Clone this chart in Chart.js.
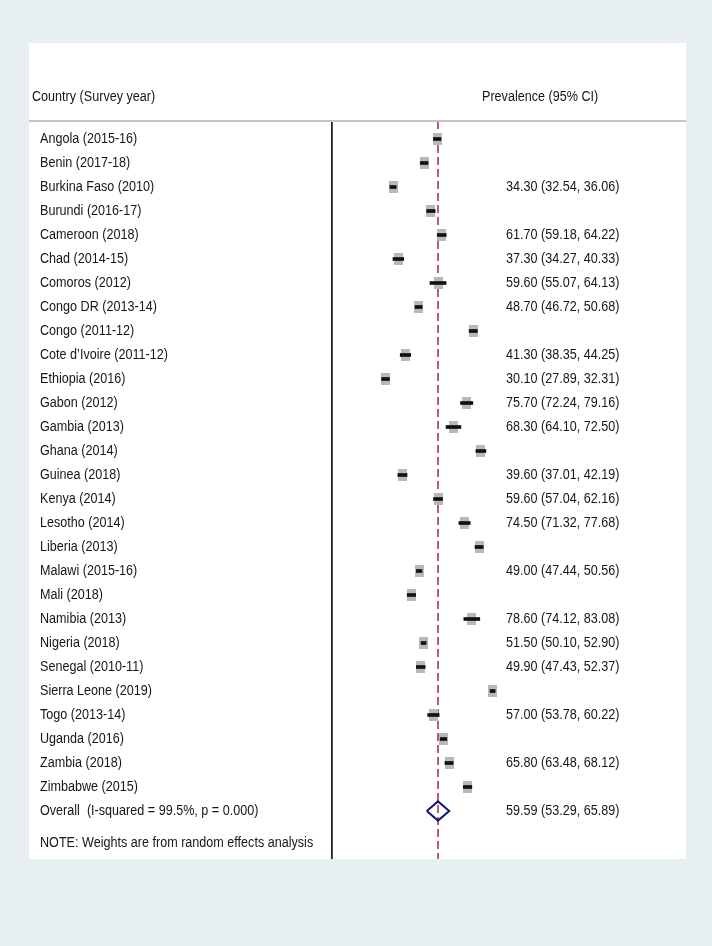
<!DOCTYPE html>
<html>
<head>
<meta charset="utf-8">
<script src="https://cdn.jsdelivr.net/npm/chart.js@4"></script>
<style>
  html, body { margin: 0; padding: 0; background: #e8eff1; }
  body { width: 712px; height: 946px; position: relative; overflow: hidden; }
  #forest { position: absolute; left: 29px; top: 43px; background: #ffffff; }
</style>
</head>
<body>
<canvas id="forest" width="657" height="816"></canvas>
<script>
// DATA
const countries = [
  'Angola (2015-16)', 'Benin (2017-18)', 'Burkina Faso (2010)', 'Burundi (2016-17)',
  'Cameroon (2018)', 'Chad (2014-15)', 'Comoros (2012)', 'Congo DR (2013-14)',
  'Congo (2011-12)', 'Cote d\u2019Ivoire (2011-12)', 'Ethiopia (2016)', 'Gabon (2012)',
  'Gambia (2013)', 'Ghana (2014)', 'Guinea (2018)', 'Kenya (2014)', 'Lesotho (2014)',
  'Liberia (2013)', 'Malawi (2015-16)', 'Mali (2018)', 'Namibia (2013)', 'Nigeria (2018)',
  'Senegal (2010-11)', 'Sierra Leone (2019)', 'Togo (2013-14)', 'Uganda (2016)',
  'Zambia (2018)', 'Zimbabwe (2015)'
];
const prevalence = [59.1, 51.8, 34.30, 55.6, 61.70, 37.30, 59.60, 48.70, 79.4, 41.30, 30.10, 75.70,
  68.30, 83.7, 39.60, 59.60, 74.50, 82.7, 49.00, 44.7, 78.60, 51.50, 49.90, 90.3, 57.00, 62.7, 65.80, 76.2];
const ciLow = [57.0, 49.6, 32.54, 53.2, 59.18, 34.27, 55.07, 46.72, 77.1, 38.35, 27.89, 72.24,
  64.10, 80.9, 37.01, 57.04, 71.32, 80.4, 47.44, 42.3, 74.12, 50.10, 47.43, 88.9, 53.78, 60.9, 63.48, 73.8];
const ciHigh = [61.2, 54.0, 36.06, 58.0, 64.22, 40.33, 64.13, 50.68, 81.7, 44.25, 32.31, 79.16,
  72.50, 86.5, 42.19, 62.16, 77.68, 85.0, 50.56, 47.0, 83.08, 52.90, 52.37, 91.7, 60.22, 64.5, 68.12, 78.6];
// rows whose estimate is printed in the right column
const printed = [0, 0, 1, 0, 1, 1, 1, 1, 0, 1, 1, 1, 1, 0, 1, 1, 1, 0, 1, 0, 1, 1, 1, 0, 1, 0, 1, 0];

const overallLabel = 'Overall  (I-squared = 99.5%, p = 0.000)';
const overall = { est: 59.59, lo: 53.29, hi: 65.89 };
const noteLabel = 'NOTE: Weights are from random effects analysis';

const FONT = '12.6px "Liberation Sans", Arial, Helvetica, sans-serif';
const TEXT = '#161616';
const STRETCH = 1.1; // the original export is a little taller than wide
const YMIN = -0.75, YMAX = 30.0;
const OVERALL_ROW = countries.length;
const NOTE_ROW = 29.33;

const fmt = (e, l, h) => `${e.toFixed(2)} (${l.toFixed(2)}, ${h.toFixed(2)})`;

const tickRows = countries.map((_, i) => i).concat([OVERALL_ROW, NOTE_ROW]);
const leftLabels = countries.concat([overallLabel, noteLabel]);
const rightLabels = countries.map((_, i) => printed[i] ? fmt(prevalence[i], ciLow[i], ciHigh[i]) : '')
  .concat([fmt(overall.est, overall.lo, overall.hi), '']);

// grey weight box
const box = document.createElement('canvas');
box.width = 9; box.height = 12;
const bctx = box.getContext('2d');
bctx.fillStyle = '#b8b8b8';
bctx.fillRect(0, 0, 9, 12);

const DIAMOND_H = 0.4;
const diamond = [
  { x: overall.lo, y: OVERALL_ROW },
  { x: overall.est, y: OVERALL_ROW - DIAMOND_H },
  { x: overall.hi, y: OVERALL_ROW },
  { x: overall.est, y: OVERALL_ROW + DIAMOND_H },
  { x: overall.lo, y: OVERALL_ROW }
];

function text(ctx, str, x, y) {
  ctx.save();
  ctx.translate(x, y);
  ctx.scale(1, STRETCH);
  ctx.fillText(str, 0, 0);
  ctx.restore();
}

// header, separator and the two text columns
const textPlugin = {
  id: 'textColumns',
  afterDraw(chart) {
    const ctx = chart.ctx, top = chart.chartArea.top, y = chart.scales.y;
    ctx.save();
    ctx.strokeStyle = '#c4c4c4';
    ctx.lineWidth = 2;
    ctx.beginPath();
    ctx.moveTo(0, top);
    ctx.lineTo(chart.width, top);
    ctx.stroke();
    ctx.font = FONT;
    ctx.fillStyle = TEXT;
    ctx.textBaseline = 'middle';
    ctx.textAlign = 'left';
    text(ctx, 'Country (Survey year)', 3, 54);
    text(ctx, 'Prevalence (95% CI)', 453, 54);
    tickRows.forEach((row, i) => {
      const py = y.getPixelForValue(row);
      text(ctx, leftLabels[i], 11, py);
      if (rightLabels[i]) text(ctx, rightLabels[i], chart.chartArea.right + 5, py);
    });
    ctx.restore();
  }
};

new Chart(document.getElementById('forest'), {
  type: 'scatter',
  data: {
    datasets: [
      {
        type: 'bar',
        indexAxis: 'y',
        data: ciLow.map((l, i) => ({ x: [l, ciHigh[i]], y: i })),
        backgroundColor: '#111111',
        borderWidth: 0,
        barThickness: 3,
        order: 0
      },
      {
        type: 'scatter',
        data: prevalence.map((v, i) => ({ x: v, y: i })),
        pointStyle: box,
        pointRadius: 5,
        clip: false,
        order: 1
      },
      {
        type: 'line',
        data: diamond,
        borderColor: '#13186e',
        borderWidth: 2,
        pointRadius: 0,
        fill: false,
        tension: 0,
        order: 2
      },
      {
        type: 'line',
        data: [{ x: overall.est, y: YMIN }, { x: overall.est, y: YMAX }],
        borderColor: '#a02e3b',
        borderWidth: 1.5,
        borderDash: [8, 4],
        pointRadius: 0,
        order: 3
      }
    ]
  },
  options: {
    responsive: false,
    animation: false,
    devicePixelRatio: 1,
    layout: { autoPadding: false, padding: { left: 11, top: 78, right: 185, bottom: 0 } },
    plugins: { legend: { display: false }, tooltip: { enabled: false } },
    scales: {
      x: { type: 'linear', min: 0, max: 95, display: false, offset: false },
      y: {
        type: 'linear', position: 'left', reverse: true, min: YMIN, max: YMAX, offset: false,
        grid: { display: false, drawTicks: false, offset: false },
        border: { display: true, color: '#222222', width: 1.8 },
        ticks: { display: false },
        afterFit: (s) => { s.width = 292; }
      }
    }
  },
  plugins: [textPlugin]
});
</script>
</body>
</html>
